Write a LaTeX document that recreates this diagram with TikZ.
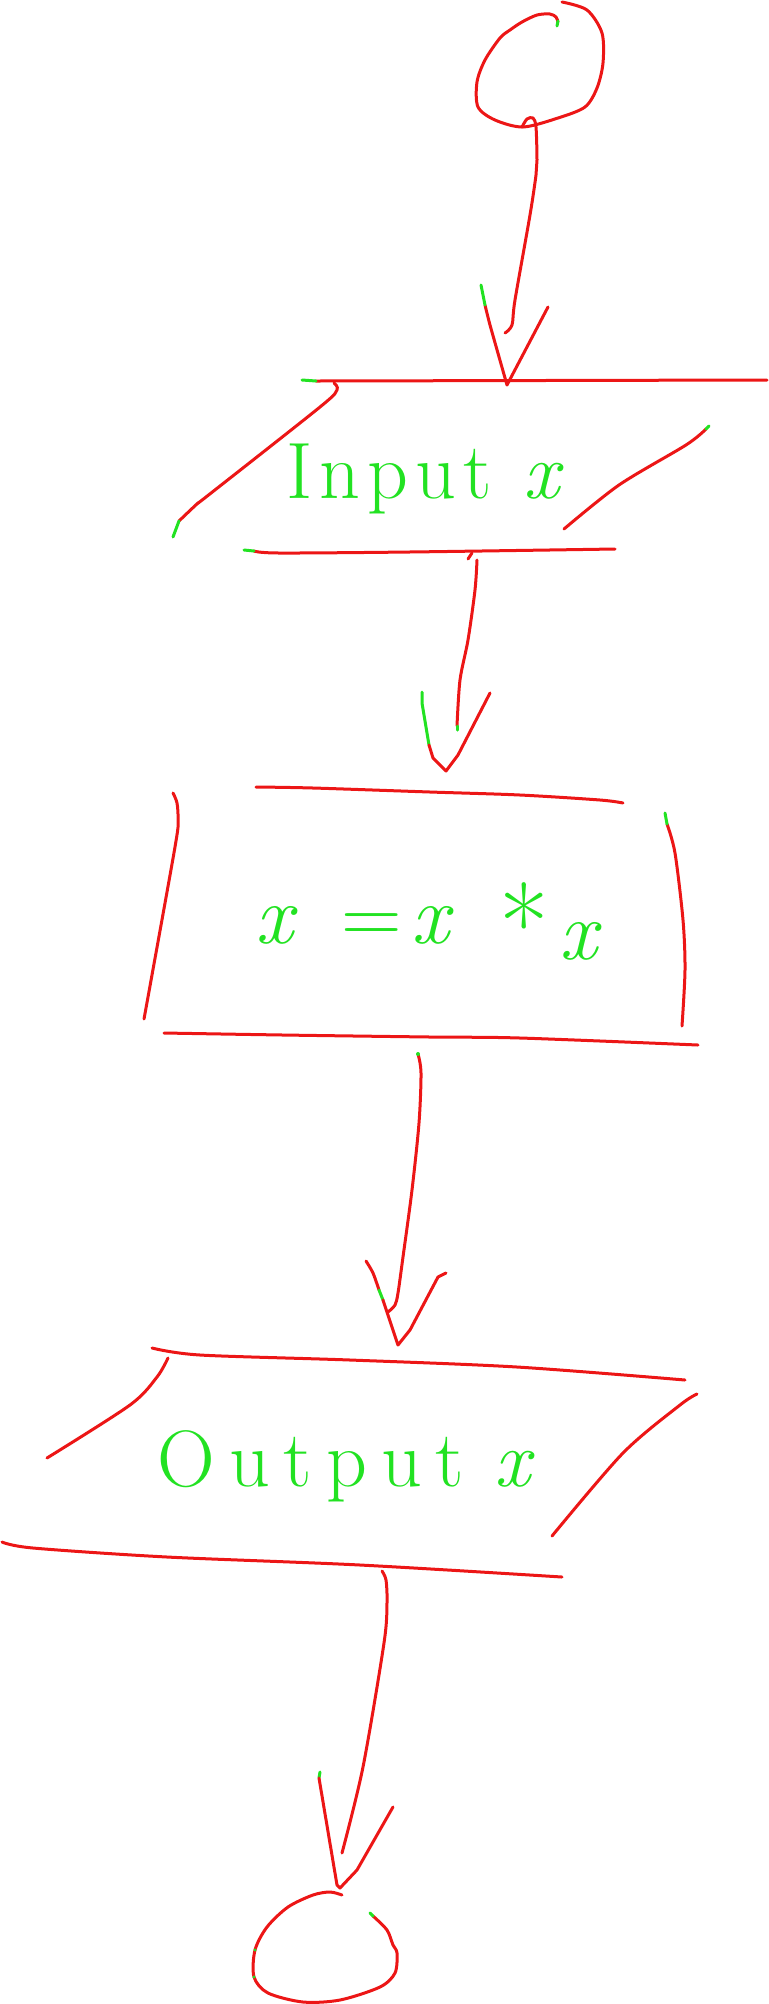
\documentclass[tikz,border=0pt]{standalone}
\usepackage{fontspec}
\definecolor{pen}{RGB}{236,22,22}
\definecolor{ink}{RGB}{34,226,34}
\begin{document}
\begin{tikzpicture}[x=0.5pt,y=-0.5pt,
  redpen/.style={draw=pen,line width=1.5pt,line cap=round,line join=round},
  greenpen/.style={draw=ink,line width=1.5pt,line cap=round,line join=round},
  handtext/.style={text=ink,inner sep=0pt,font=\fontsize{40}{46}\selectfont}]
\useasboundingbox (0,0) rectangle (768,2004);

% ---------- named points ----------
\coordinate (startBottom) at (522,127);
\coordinate (a1end) at (505,333);
\coordinate (a1tip) at (507,385);
\coordinate (inBottom) at (477,560);
\coordinate (a2end) at (457,730);
\coordinate (a2tip) at (446,771);
\coordinate (procBottom) at (418,1054);
\coordinate (a3end) at (388,1312);
\coordinate (a3tip) at (398,1345);
\coordinate (outBottom) at (382,1571);
\coordinate (a4end) at (342,1853);
\coordinate (a4tip) at (340,1888);

% ---------- start circle ----------
\draw[redpen] plot[smooth,tension=0.5] coordinates {(562,2) (587,10) (602,33) (603,63) (597,88) (585,107) (558,118) (523,127) (495,120) (478,107) (477,82) (485,60) (500,38) (510,30) (522,22) (537,15) (550,14) (556,17) (558,22)};
\draw[greenpen] (558,21) -- (557,26);

% ---------- arrow 1 ----------
\draw[redpen] plot[smooth,tension=0.5] coordinates {(startBottom) (527,119) (533,118) (536,127) (537,160) (536,175) (530,215) (515,300) (512,325) (a1end)};
\draw[redpen] plot[smooth,tension=0.3] coordinates {(485,305) (490,325) (a1tip)} -- (548,307);
\draw[greenpen] (481,285) -- (485,305);

% ---------- input parallelogram ----------
\draw[redpen] (316,381) -- (767,380);
\draw[greenpen] (302,380) -- (316,381);
\draw[redpen] plot[smooth,tension=0.5] coordinates {(334,383) (337,390) (320,407) (206,497) (198,503) (179,521)};
\draw[greenpen] (179,521) -- (173,537);
\draw[redpen] plot[smooth,tension=0.5] coordinates {(706,429) (686,445) (619,485) (564,529)};
\draw[greenpen] (709,426) -- (706,429);
\draw[redpen] plot[smooth,tension=0.5] coordinates {(254,551) (279,553) (409,552) (615,549)};
\draw[greenpen] (244,550) -- (254,551);
\draw[redpen] (468,559) -- (472,553);
\node[handtext,anchor=base west] (input) at (286,498) {I\kern3.5pt n\kern3.5pt p\kern3.5pt u\kern3.5pt t\kern4pt\ {\itshape x}};

% ---------- arrow 2 ----------
\draw[redpen] plot[smooth,tension=0.5] coordinates {(inBottom) (475,590) (468,640) (460,680) (457,726)};
\draw[greenpen] (457,726) -- (a2end);
\draw[greenpen] (422,692) -- (422,703) -- (429,745);
\draw[redpen] (429,745) -- (433,758) -- (a2tip) -- (458,755) -- (490,693);

% ---------- process box ----------
\draw[redpen] plot[smooth,tension=0.5] coordinates {(256,787) (313,788) (430,792) (520,795) (600,800) (623,803)};
\draw[redpen] plot[smooth,tension=0.5] coordinates {(173,793) (177,803) (178,820) (175,847) (144,1019)};
\draw[redpen] plot[smooth,tension=0.5] coordinates {(667,824) (675,853) (683,920) (685,970) (682,1026)};
\draw[greenpen] (665,813) -- (667,824);
\draw[redpen] plot[smooth,tension=0.5] coordinates {(164,1033) (283,1035) (430,1037) (520,1038) (698,1045)};
\node[handtext,anchor=base west,font=\fontsize{42}{48}\selectfont] (process) at (255,943) {{\itshape x}\hspace{24pt}=\hspace{5pt}{\itshape x}\hspace{25pt}{\fontsize{54}{54}\selectfont\raisebox{-10pt}{*}}\hspace{5pt}\raisebox{-8pt}{\itshape x}};

% ---------- arrow 3 ----------
\draw[redpen] plot[smooth,tension=0.5] coordinates {(procBottom) (421,1073) (419,1123) (412,1190) (403,1257) (398,1293) (395,1305) (a3end)};
\fill[ink] (procBottom) circle (2);
\draw[redpen] plot[smooth,tension=0.5] coordinates {(366,1261) (373,1273) (379,1290)};
\draw[greenpen] (379,1290) -- (383,1300);
\draw[redpen] (383,1300) -- (a3tip) -- (410,1330) -- (438,1277) -- (446,1273);

% ---------- output parallelogram ----------
\draw[redpen] plot[smooth,tension=0.5] coordinates {(152,1348) (200,1355) (350,1360) (517,1367) (685,1380)};
\draw[redpen] plot[smooth,tension=0.5] coordinates {(168,1358) (157,1377) (130,1405) (47,1458)};
\draw[redpen] plot[smooth,tension=0.5] coordinates {(697,1394) (680,1405) (623,1453) (552,1536)};
\draw[redpen] plot[smooth,tension=0.5] coordinates {(2,1542) (33,1548) (167,1557) (360,1565) (562,1577)};
\node[handtext,anchor=base west] (output) at (157,1486) {O\kern7pt u\kern7pt t\kern7pt p\kern7pt u\kern7pt t\kern3pt\ {\itshape x}};

% ---------- arrow 4 ----------
\draw[redpen] plot[smooth,tension=0.5] coordinates {(outBottom) (386,1580) (387,1603) (384,1643) (363,1767) (a4end)};
\draw[greenpen] (320,1772) -- (319,1778);
\draw[redpen] (319,1778) -- (337,1885) -- (a4tip) -- (357,1870) -- (393,1807);

% ---------- end circle ----------
\draw[redpen] plot[smooth,tension=0.5] coordinates {(342,1895) (330,1892) (313,1895) (288,1907) (267,1927) (255,1950) (254,1977) (268,1993) (303,2002) (340,2000) (380,1987) (395,1973) (397,1953) (393,1945) (387,1930) (373,1916)};
\draw[greenpen] (373,1916) -- (370,1913);
\fill[ink] (255,1950) circle (1.6) (254,1977) circle (1.6);
\end{tikzpicture}
\end{document}
